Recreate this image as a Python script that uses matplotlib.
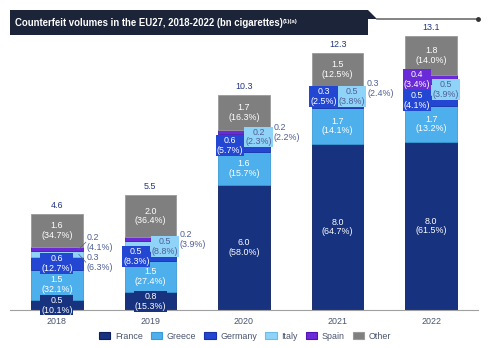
import numpy as np
import matplotlib.pyplot as plt
from matplotlib.patches import Polygon, Patch

years = ['2018', '2019', '2020', '2021', '2022']
series = ['France', 'Greece', 'Germany', 'Italy', 'Spain', 'Other']
totals = [4.6, 5.5, 10.3, 12.3, 13.1]

# values (bn) and shares (%) per series, one entry per year
france = [0.5, 0.8, 6.0, 8.0, 8.0]
france_pct = [10.1, 15.3, 58.0, 64.7, 61.5]
greece = [1.5, 1.5, 1.6, 1.7, 1.7]
greece_pct = [32.1, 27.4, 15.7, 14.1, 13.2]
germany = [0.6, 0.5, 0.6, 0.3, 0.5]
germany_pct = [12.7, 8.3, 5.7, 2.5, 4.1]
italy = [0.3, 0.5, 0.2, 0.5, 0.5]
italy_pct = [6.3, 8.8, 2.3, 3.8, 3.9]
spain = [0.2, 0.2, 0.2, 0.3, 0.4]
spain_pct = [4.1, 3.9, 2.2, 2.4, 3.4]
other = [1.6, 2.0, 1.7, 1.5, 1.8]
other_pct = [34.7, 36.4, 16.3, 12.5, 14.0]

values = [france, greece, germany, italy, spain, other]
shares = [france_pct, greece_pct, germany_pct, italy_pct, spain_pct, other_pct]

colors = ['#17327f', '#4db0ec', '#2347d2', '#8fd3f8', '#6a2ad8', '#7f7f7f']
edges = ['#0c1f5e', '#3a9ad6', '#1633a8', '#6fbbe8', '#4d16b0', '#9a9a9a']
txt_dark = '#4f5f95'
FONT = 'Liberation Sans'
FS = 6.4
LS = 1.12

plt.rcParams['font.family'] = [FONT, 'DejaVu Sans']

fig = plt.figure(figsize=(5.0, 3.48), dpi=100)
W, H = 500.0, 348.0
ax = fig.add_axes([10 / W, 38 / H, 468 / W, 292 / H])
ax.set_xlim(-0.5, 4.5)
ax.set_ylim(0, 14)

x = np.arange(len(years))
bw = 0.55
bottom = np.zeros(len(years))
# small nudges of label positions (year index, series index) -> dy in data units
nudge = {(0, 4): 0.34, (0, 3): -0.38, (3, 2): 0.38}

for j, name in enumerate(series):
    h = np.array(totals) * np.array(shares[j]) / 100.0
    ax.bar(x, h, bw, bottom=bottom, color=colors[j], edgecolor=edges[j],
           linewidth=0.6, label=name, zorder=2)
    for i in range(len(years)):
        yc = bottom[i] + h[i] / 2 + nudge.get((i, j), 0)
        lab = '%.1f\n(%.1f%%)' % (values[j][i], shares[j][i])
        box = dict(boxstyle='square,pad=0.1', fc=colors[j], ec='none')
        if name in ('France', 'Greece', 'Other'):
            ax.text(x[i], yc, lab, ha='center', va='center', fontsize=FS,
                    color='white', linespacing=LS, bbox=box, zorder=4)
        elif name == 'Germany':
            xc = x[i] if i == 0 else x[i] - 0.15
            ax.text(xc, yc, lab, ha='center', va='center', fontsize=FS,
                    color='white', linespacing=LS, bbox=box, zorder=4)
        elif (name == 'Italy' and i > 0) or (name == 'Spain' and i == 4):
            c = txt_dark if name == 'Italy' else 'white'
            ax.text(x[i] + (0.155 if name == 'Italy' else -0.15), yc, lab,
                    ha='center', va='center', fontsize=FS, color=c,
                    linespacing=LS, bbox=box, zorder=5)
        else:
            xt = x[i] + bw / 2 + 0.04
            ax.text(xt, yc, lab, ha='left', va='center', fontsize=FS,
                    color=txt_dark, linespacing=LS, zorder=4)
            if (i, j) in nudge:
                ys = bottom[i] + h[i] / 2
                ax.plot([x[i] + bw / 2 - 0.04, xt - 0.005], [ys, yc],
                        color=txt_dark, lw=0.5, zorder=4)
    bottom = bottom + h

for i, t in enumerate(totals):
    ax.text(x[i], bottom[i] + 0.2, '%.1f' % t, ha='center', va='bottom',
            fontsize=FS, color='#22367e', zorder=4)

for s in ['top', 'right', 'left']:
    ax.spines[s].set_visible(False)
ax.spines['bottom'].set_color('#a0a0a0')
ax.spines['bottom'].set_linewidth(0.8)
ax.set_yticks([])
ax.set_xticks(x)
ax.set_xticklabels(years, fontsize=FS, color='#4a5470')
ax.tick_params(axis='x', length=0, pad=5)

# title banner
def fp(px, py):
    return (px / W, 1 - py / H)

banner = Polygon([fp(10, 10), fp(368, 10), fp(377, 19), fp(368, 19),
                  fp(368, 35), fp(10, 35)], closed=True,
                 transform=fig.transFigure, fc='#1b2438', ec='none')
fig.add_artist(banner)
fig.add_artist(plt.Line2D([377 / W, 478 / W], [1 - 19 / H, 1 - 19 / H],
                          transform=fig.transFigure, color='#6e6e6e', lw=1.2))
fig.add_artist(plt.Line2D([478 / W], [1 - 19 / H], transform=fig.transFigure,
                          marker='o', ms=2.5, color='#333333'))
title = fig.text(15 / W, 1 - 23.5 / H,
                 'Counterfeit volumes in the EU27, 2018-2022 (bn cigarettes)',
                 fontsize=6.9, fontweight='bold', color='white', va='center',
                 zorder=5)
fig.text(283 / W, 1 - 21 / H, '(1)(a)', fontsize=4.4, fontweight='bold',
         color='white', va='center', ha='left', zorder=5)

handles = [Patch(fc=colors[j], ec=edges[j], lw=0.8) for j in range(len(series))]
fig.legend(handles, series, loc='center', bbox_to_anchor=(0.49, 0.034),
           ncol=6, frameon=False, fontsize=FS, handlelength=1.3,
           handleheight=0.9, columnspacing=0.9, handletextpad=0.5,
           labelcolor='#4a5470')

fig.savefig('out.png', dpi=100)
